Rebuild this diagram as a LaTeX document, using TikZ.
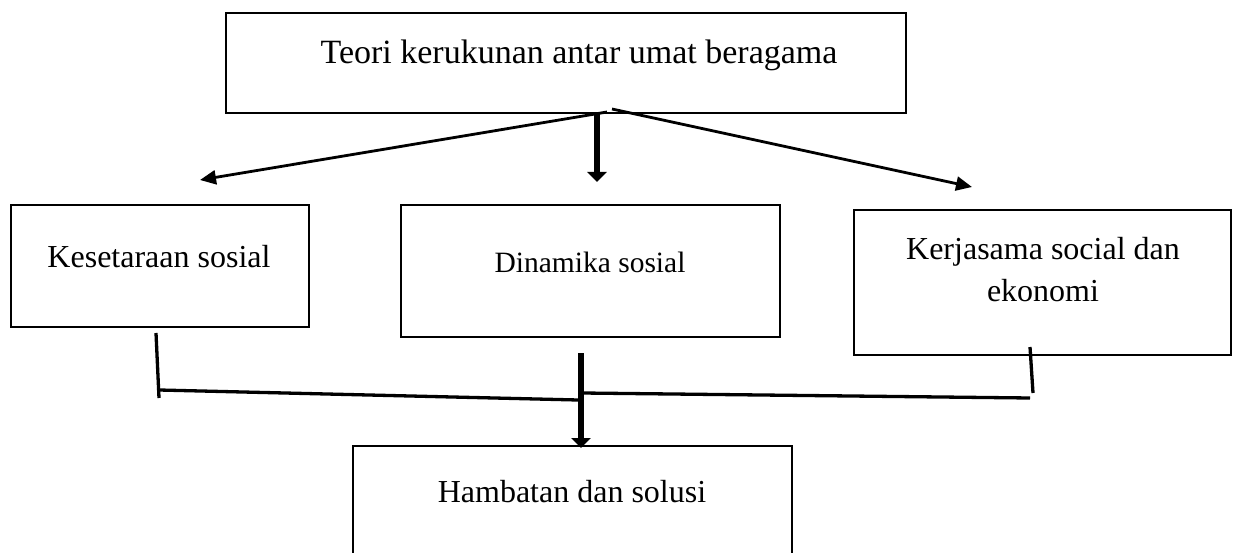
\documentclass[tikz,border=0pt]{standalone}
\usepackage{fontspec}
\setmainfont{Liberation Serif}
\usetikzlibrary{arrows.meta}
\begin{document}
\begin{tikzpicture}[x=1pt,y=-1pt,
  box/.style={draw, line width=2pt, inner sep=0pt},
  lbl/.style={font=\fontsize{32}{38}\selectfont, inner sep=0pt, align=center},
  toplbl/.style={font=\fontsize{34}{40}\selectfont, inner sep=0pt, align=center},
  slbl/.style={font=\fontsize{29.5}{35}\selectfont, inner sep=0pt, align=center},
  thinarrow/.style={line width=2.8pt, -{Triangle[length=16pt,width=14pt]}},
  thickarrow/.style={line width=6.5pt, -{Triangle[length=10pt,width=19pt]}},
  joinline/.style={line width=3.3pt, line cap=butt}
]
\useasboundingbox (0,0) rectangle (1237,553);
\begin{scope}
\clip (0,0) rectangle (1237,553);
% boxes
\node[box, minimum width=680pt, minimum height=100pt] (top) at (566,63) {};
\node[box, minimum width=298pt, minimum height=122pt] (left) at (160,266) {};
\node[box, minimum width=379pt, minimum height=132pt] (mid) at (590.5,271) {};
\node[box, minimum width=377pt, minimum height=145pt] (right) at (1042.5,282.5) {};
\node[box, minimum width=439pt, minimum height=130pt] (bot) at (572.5,511) {};
\end{scope}
% texts
\node[toplbl] (ttop) at (579,55) {Teori kerukunan antar umat beragama};
\node[lbl] (tleft) at (159,257) {Kesetaraan sosial};
\node[slbl] (tmid) at (590,262) {Dinamika sosial};
\node[lbl] (tright1) at (1043,252) {Kerjasama social dan};
\node[lbl] (tright2) at (1043,291) {ekonomi};
\node[lbl] (tbot) at (572,492) {Hambatan dan solusi};
% coordinates
\coordinate (apexL) at (607,112);
\coordinate (apexR) at (612,109);
\coordinate (tipL) at (200,180);
\coordinate (tipR) at (972,187);
\coordinate (downS) at (597,113);
\coordinate (downT) at (597,182);
\coordinate (lv1) at (156,333);
\coordinate (lv2) at (159,398);
\coordinate (h1a) at (159,390);
\coordinate (h1b) at (578,400);
\coordinate (h2a) at (582,393);
\coordinate (h2b) at (1030,398);
\coordinate (rv1) at (1030,347);
\coordinate (rv2) at (1033,393);
\coordinate (md1) at (581,353);
\coordinate (md2) at (581,448);
% connectors
\draw[thinarrow] (apexL) -- (tipL);
\draw[thinarrow] (apexR) -- (tipR);
\draw[thickarrow] (downS) -- (downT);
\draw[joinline] (lv1) -- (lv2);
\draw[joinline] (h1a) -- (h1b);
\draw[joinline] (h2a) -- (h2b);
\draw[joinline] (rv1) -- (rv2);
\draw[thickarrow] (md1) -- (md2);
\end{tikzpicture}
\end{document}
